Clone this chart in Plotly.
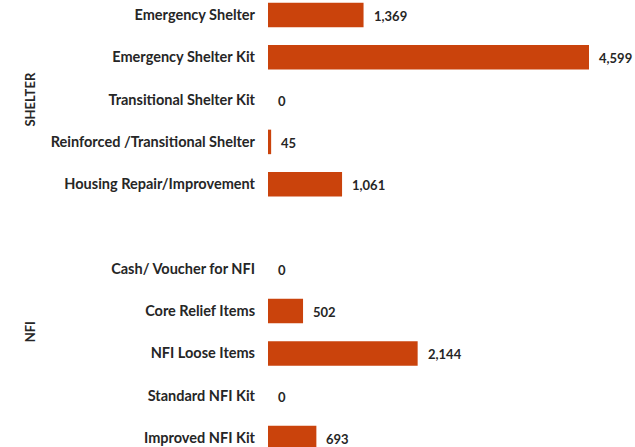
import plotly.graph_objects as go

categories = [
    "Emergency Shelter",
    "Emergency Shelter Kit",
    "Transitional Shelter Kit",
    "Reinforced /Transitional Shelter",
    "Housing Repair/Improvement",
    " ",
    "Cash/ Voucher for NFI",
    "Core Relief Items",
    "NFI Loose Items",
    "Standard NFI Kit",
    "Improved NFI Kit",
]
values = [1369, 4599, 0, 45, 1061, None, 0, 502, 2144, 0, 693]
groups = [("SHELTER", "Transitional Shelter Kit", 0.0), ("NFI", "Core Relief Items", 0.5)]

BAR = "#CA430C"
TXT = "#262626"
FONT = "Lato"

fig = go.Figure()
fig.add_trace(go.Bar(
    y=categories,
    x=[v if v is not None else 0 for v in values],
    orientation="h",
    marker=dict(color=BAR, line=dict(width=0)),
    width=0.58,
    hoverinfo="skip",
))

ann = []
for c, v in zip(categories, values):
    if v is None:
        continue
    ann.append(dict(
        x=v, y=c, xref="x", yref="y", text=f"{v:,}", showarrow=False,
        xanchor="left", yanchor="middle", xshift=8, yshift=-1,
        font=dict(family=FONT, size=13, color=TXT, weight="bold"),
    ))
for name, cat, off in groups:
    ann.append(dict(
        x=0, y=categories.index(cat) + off, xref="paper", yref="y", text=name,
        showarrow=False, xanchor="center", yanchor="middle", xshift=-238,
        textangle=-90,
        font=dict(family=FONT, size=13, color=TXT, weight="bold"),
    ))

n = len(categories)
fig.update_layout(
    width=635, height=447,
    margin=dict(l=268, r=0, t=0, b=0),
    plot_bgcolor="white", paper_bgcolor="white",
    showlegend=False,
    annotations=ann,
    xaxis=dict(range=[0, 5258], visible=False, showgrid=False, zeroline=False),
    yaxis=dict(
        type="category", categoryorder="array", categoryarray=categories,
        range=[n - 1 + 0.213, -0.355],
        showgrid=False, zeroline=False, showline=False, ticks="",
        ticklabelstandoff=12,
        tickfont=dict(family=FONT, size=14.5, color=TXT, weight="bold"),
    ),
)

fig.write_html("out.html")
